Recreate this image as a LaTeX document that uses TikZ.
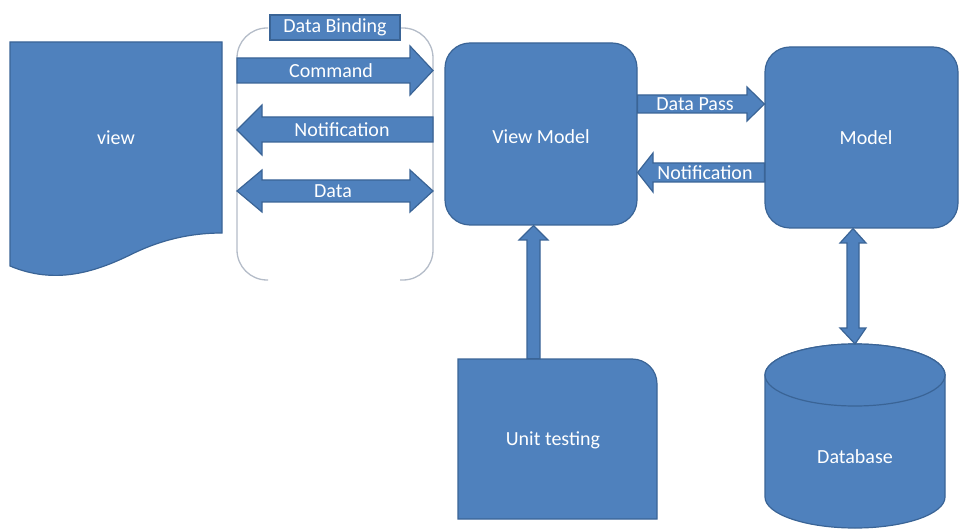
\documentclass[tikz,border=0pt]{standalone}
\usepackage{fontspec}
\setmainfont{Carlito}
\definecolor{boxblue}{HTML}{4F81BD}
\definecolor{boxedge}{HTML}{3A6496}
\definecolor{brgray}{HTML}{B4BCC8}
\begin{document}
\begin{tikzpicture}[x=1pt,y=-1pt,
  blk/.style={fill=boxblue, draw=boxedge, line width=1.2pt, line join=miter},
  txt/.style={text=white, font=\fontsize{20}{24}\selectfont, inner sep=0pt},
  bracket/.style={draw=brgray, line width=1.3pt, rounded corners=30},
  blockbox/.style={blk, rounded corners=25, inner sep=0pt}]
\useasboundingbox (0,0) rectangle (960,529);

% view: document shape with a wavy lower edge
\draw[blk] (10,42) -- (222,42) -- (222,233)
  .. controls (190,233) and (160,240) .. (130,255)
  .. controls (95,272) and (55,285) .. (10,266) -- cycle;
\node[txt] (view) at (116,138) {view};

% data binding brackets and caption
\draw[bracket] (268,28) -- (237,28) -- (237,280) -- (268,280);
\draw[bracket] (400,28) -- (433,28) -- (433,280) -- (400,280);
\node[blk, txt, minimum width=130, minimum height=25] (binding) at (335,27.5) {Data Binding};

% main boxes
\node[blockbox, minimum width=192, minimum height=182] (vm) at (541,134) {};
\node[txt] (vmtxt) at (541,137) {View Model};
\node[blockbox, minimum width=193, minimum height=181] (model) at (861.5,137.5) {};
\node[txt] (modeltxt) at (866,138) {Model};

% unit testing box with one rounded corner
\node[minimum width=199, minimum height=160, inner sep=0pt] (unit) at (557.5,439) {};
\draw[blk] (458,519) -- (458,359) -- (632,359)
  .. controls (646,359) and (657,370) .. (657,384) -- (657,519) -- cycle;
\node[txt] (unittxt) at (553,440) {Unit testing};

% database cylinder
\draw[blk] (765,375) -- (765,497)
  arc[start angle=180, end angle=0, x radius=90, y radius=31]
  -- (945,375)
  arc[start angle=0, end angle=-180, x radius=90, y radius=31] -- cycle;
\draw[blk] (855,375) ellipse [x radius=90, y radius=31];
\coordinate (dbtop) at (855,344);
\node[txt] (db) at (855,457) {Database};

% binding arrows
\coordinate (bl) at (237,0);
\coordinate (br) at (433,0);
\draw[blk] (bl |- 0,58) -- (410,58) -- (410,46) -- (br |- 0,70.5)
  -- (410,95) -- (410,83) -- (bl |- 0,83) -- cycle;
\node[txt] (cmd) at (331,71) {Command};

\draw[blk] (br |- 0,117) -- (262,117) -- (262,105) -- (bl |- 0,130)
  -- (262,155) -- (262,142) -- (br |- 0,142) -- cycle;
\node[txt] (notif1) at (342,130) {Notification};

\draw[blk] (bl |- 0,191) -- (262,170) -- (262,180) -- (410,180) -- (410,170)
  -- (br |- 0,191) -- (410,212) -- (410,202) -- (262,202) -- (262,212) -- cycle;
\node[txt] (data) at (333,191) {Data};

% view model <-> model
\draw[blk] (vm.east |- 0,95) -- (747,95) -- (747,87) -- (model.west |- 0,104)
  -- (747,121) -- (747,113) -- (vm.east |- 0,113) -- cycle;
\node[txt] (pass) at (695,104) {Data Pass};

\draw[blk] (model.west |- 0,163) -- (653,163) -- (653,153) -- (vm.east |- 0,172.5)
  -- (653,192) -- (653,182) -- (model.west |- 0,182) -- cycle;
\node[txt] (notif2) at (705,172.5) {Notification};

% unit testing -> view model
\draw[blk] (527,0 |- unit.north) -- (527,240) -- (519,240) -- (533.5,0 |- vm.south)
  -- (548,240) -- (540,240) -- (540,0 |- unit.north) -- cycle;

% model <-> database
\draw[blk] (853,0 |- model.south) -- (866,243) -- (859,243) -- (859,328) -- (866,328)
  -- (dbtop) -- (840,328) -- (847,328) -- (847,243) -- (840,243) -- cycle;
\end{tikzpicture}
\end{document}
